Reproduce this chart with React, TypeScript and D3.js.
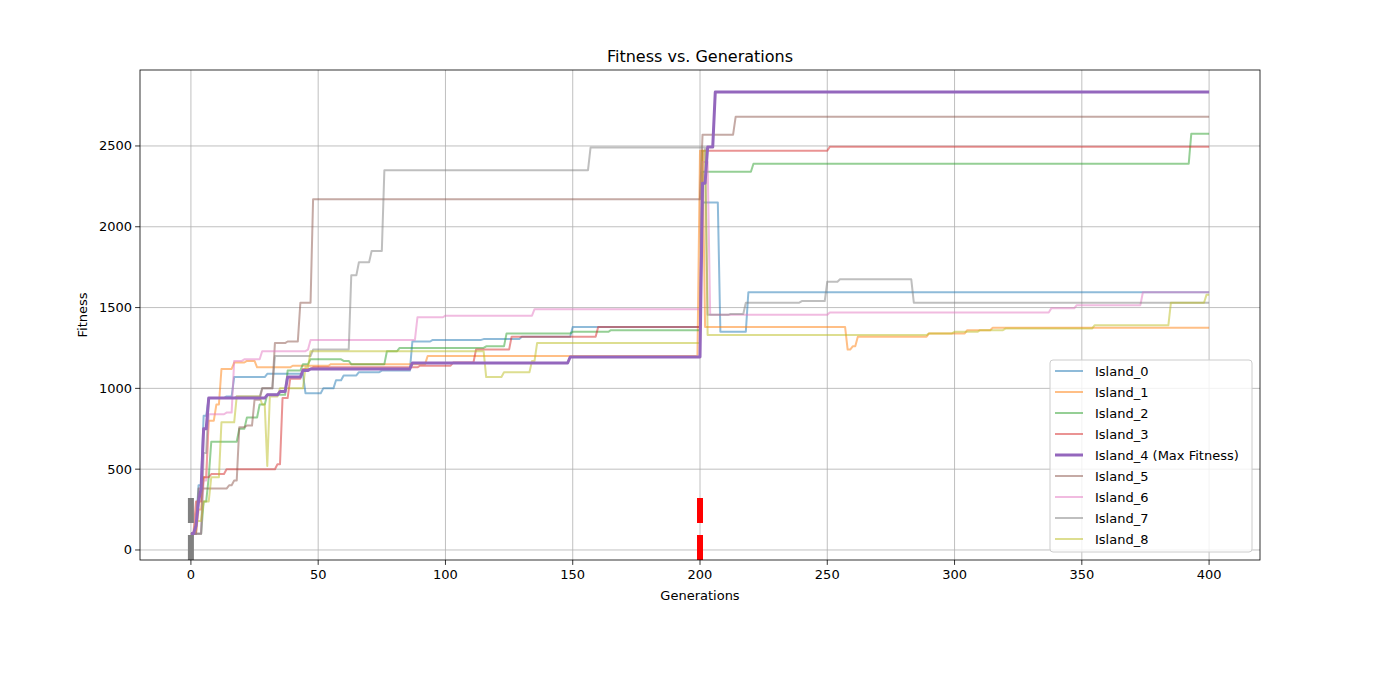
import React from "react";
import * as d3 from "d3";

const names = ["Island_0","Island_1","Island_2","Island_3","Island_4 (Max Fitness)","Island_5","Island_6","Island_7","Island_8"];
const colors = ["#1f77b4","#ff7f0e","#2ca02c","#d62728","#9467bd","#8c564b","#e377c2","#7f7f7f","#bcbd22"];
// breakpoints: [generation, fitness] held until next breakpoint
const island0 = [[0,100],[2,150],[3,400],[5,830],[7,940],[14,950],[17,1070],[30,1090],[45,970],[52,1000],[57,1050],[60,1080],[66,1100],[75,1110],[87,1290],[95,1300],[115,1305],[130,1320],[150,1380],[200,1380],[201,2150],[208,1350],[219,1595],[400,1595]];
const island1 = [[0,100],[3,250],[5,450],[7,800],[10,900],[12,1120],[17,1160],[22,1170],[26,1130],[40,1140],[55,1150],[93,1200],[200,2470],[202,1380],[258,1240],[260,1260],[262,1320],[290,1340],[305,1360],[315,1375],[400,1375]];
const island2 = [[0,100],[5,300],[7,450],[8,670],[19,750],[22,820],[27,900],[30,960],[38,1110],[44,1150],[47,1180],[60,1170],[63,1150],[77,1230],[82,1250],[116,1260],[124,1340],[150,1350],[165,1360],[200,1360],[201,2340],[221,2390],[393,2575],[400,2575]];
const island3 = [[0,100],[2,300],[5,450],[8,470],[14,500],[34,530],[36,940],[39,1060],[44,1120],[48,1130],[90,1140],[103,1160],[112,1240],[126,1320],[160,1380],[200,1380],[201,2470],[251,2495],[400,2495]];
const island4 = [[0,100],[2,150],[3,300],[4,380],[5,750],[7,940],[30,960],[35,980],[38,1070],[44,1110],[47,1120],[87,1157],[149,1194],[200,1194],[201,2270],[203,2493],[206,2834],[400,2834]];
const island5 = [[0,100],[3,380],[15,400],[17,430],[19,760],[22,770],[25,930],[28,1000],[33,1280],[38,1290],[43,1530],[48,2170],[200,2170],[201,2570],[214,2680],[400,2680]];
const island6 = [[0,100],[5,430],[7,840],[14,850],[17,1170],[21,1180],[28,1230],[46,1240],[47,1300],[89,1440],[100,1450],[135,1490],[200,1490],[201,2400],[204,1455],[251,1470],[338,1495],[348,1515],[374,1595],[400,1595]];
const island7 = [[0,100],[5,600],[7,940],[18,950],[28,1000],[33,1200],[48,1240],[62,1240],[63,1700],[66,1780],[71,1850],[76,2350],[156,2350],[157,2490],[200,2490],[203,1455],[212,1460],[218,1530],[240,1540],[250,1660],[255,1675],[284,1530],[400,1530]];
const island8 = [[0,100],[2,180],[5,300],[8,450],[12,790],[18,950],[28,900],[30,520],[31,950],[35,1000],[45,1130],[47,1230],[116,1070],[123,1100],[134,1170],[136,1280],[200,1280],[201,2470],[203,1330],[290,1340],[300,1350],[310,1360],[320,1370],[355,1390],[385,1530],[399,1580],[400,1580]];
const seriesBreaks = [island0,island1,island2,island3,island4,island5,island6,island7,island8];
const xTicks = [0,50,100,150,200,250,300,350,400];
const yTicks = [0,500,1000,1500,2000,2500];
const markers = [{gen:0,color:"#808080"},{gen:200,color:"#ff0000"}];

function expand(b: number[][]) {
  const out: [number, number][] = [];
  let j = 0;
  for (let g = 0; g <= 400; g++) {
    while (j + 1 < b.length && b[j + 1][0] <= g) j++;
    out.push([g, b[j][1]]);
  }
  return out;
}

export default function App() {
  const W = 1400, H = 700;
  const L = 140, R = 1260, T = 70, B = 560;
  const x = d3.scaleLinear().domain([-20, 420]).range([L, R]);
  const y = d3.scaleLinear().domain([-62, 2970]).range([B, T]);
  const line = d3.line<[number, number]>().x(d => x(d[0])).y(d => y(d[1]));
  const font = "DejaVu Sans, sans-serif";
  const order = [0,1,2,3,5,6,7,8,4];
  return (
    <svg width={W} height={H} style={{ position: "absolute", left: 0, top: 0, background: "#fff" }} fontFamily={font}>
      {xTicks.map(t => <line key={"gx"+t} x1={x(t)} x2={x(t)} y1={T} y2={B} stroke="#b0b0b0" strokeWidth={0.8} />)}
      {yTicks.map(t => <line key={"gy"+t} x1={L} x2={R} y1={y(t)} y2={y(t)} stroke="#b0b0b0" strokeWidth={0.8} />)}
      <defs><clipPath id="c"><rect x={L} y={T} width={R-L} height={B-T} /></clipPath></defs>
      <g clipPath="url(#c)">
        {order.map(i => (
          <path key={i} d={line(expand(seriesBreaks[i])) || ""} fill="none" stroke={colors[i]}
            strokeOpacity={i === 4 ? 1 : 0.5} strokeWidth={i === 4 ? 3 : 2} strokeLinejoin="round" />
        ))}
        {markers.map(m => (
          <line key={m.gen} x1={x(m.gen)} x2={x(m.gen)} y1={B} y2={B - 63} stroke={m.color} strokeWidth={6} strokeDasharray="25,12" />
        ))}
      </g>
      <rect x={L} y={T} width={R-L} height={B-T} fill="none" stroke="#000" strokeWidth={0.8} />
      {xTicks.map(t => (
        <g key={"tx"+t}>
          <line x1={x(t)} x2={x(t)} y1={B} y2={B+4.9} stroke="#000" strokeWidth={0.8} />
          <text x={x(t)} y={B+19} textAnchor="middle" fontSize={13}>{t}</text>
        </g>
      ))}
      {yTicks.map(t => (
        <g key={"ty"+t}>
          <line x1={L-4.9} x2={L} y1={y(t)} y2={y(t)} stroke="#000" strokeWidth={0.8} />
          <text x={L-8} y={y(t)+4.5} textAnchor="end" fontSize={13}>{t}</text>
        </g>
      ))}
      <text x={(L+R)/2} y={600} textAnchor="middle" fontSize={13}>Generations</text>
      <text transform={`translate(87,${(T+B)/2}) rotate(-90)`} textAnchor="middle" fontSize={13}>Fitness</text>
      <text x={(L+R)/2} y={62} textAnchor="middle" fontSize={16}>Fitness vs. Generations</text>
      <g>
        <rect x={1050} y={360} width={202} height={192} rx={3} fill="#fff" fillOpacity={0.8} stroke="#ccc" />
        {names.map((n, i) => (
          <g key={n}>
            <line x1={1055} x2={1083} y1={371 + i*21} y2={371 + i*21} stroke={colors[i]} strokeOpacity={i === 4 ? 1 : 0.5} strokeWidth={i === 4 ? 3 : 2} />
            <text x={1095} y={376 + i*21} fontSize={13}>{n}</text>
          </g>
        ))}
      </g>
    </svg>
  );
}
